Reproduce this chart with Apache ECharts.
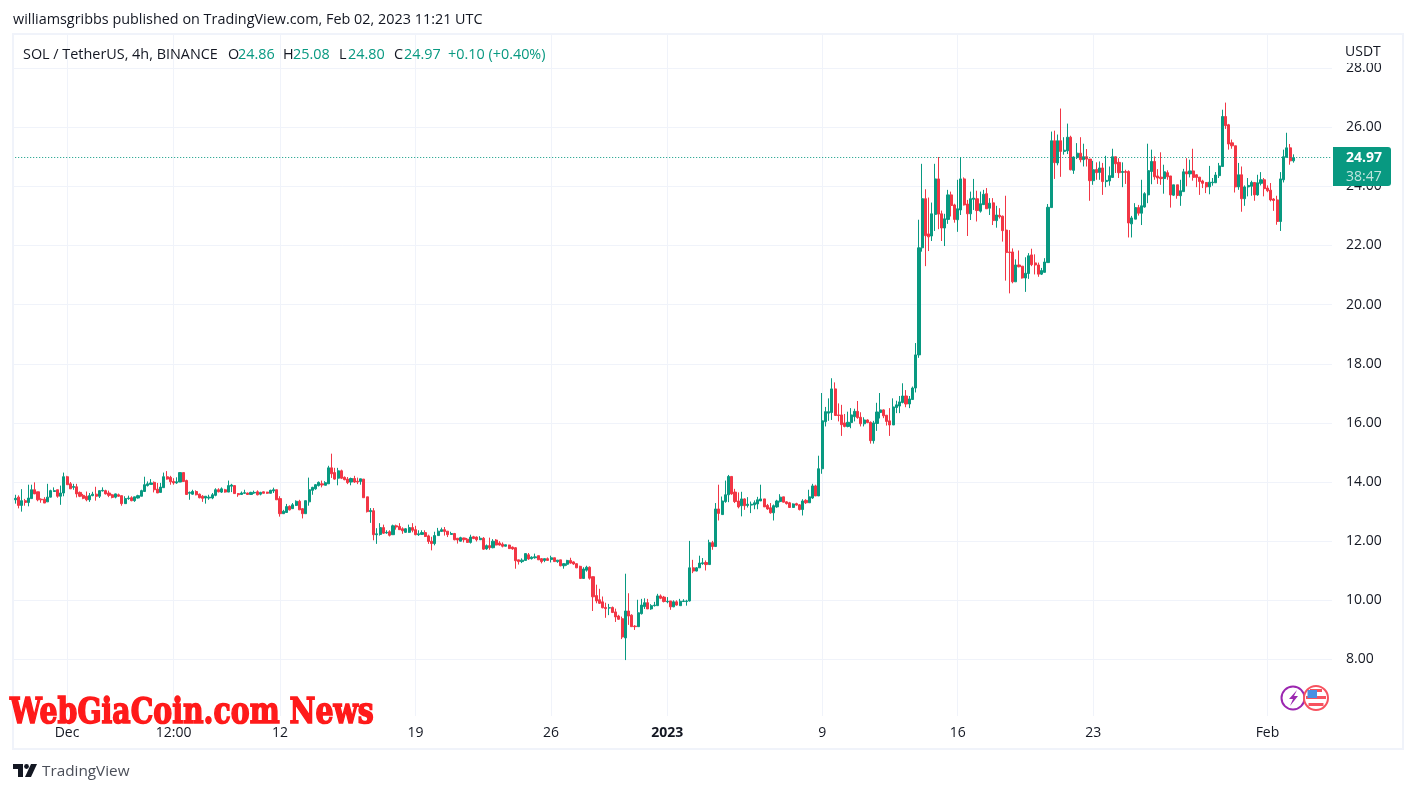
<!DOCTYPE html>
<html>
<head>
<meta charset="utf-8">
<title>SOL / TetherUS</title>
<script src="https://cdn.jsdelivr.net/npm/echarts@6/dist/echarts.min.js"></script>
<style>
  html, body { margin: 0; padding: 0; background: #fff; }
  #chart { width: 1416px; height: 793px; }
</style>
</head>
<body>
<div id="chart"></div>
<script>
// 4h candles
const opens = [
  13.2,13.40,13.49,13.21,13.37,13.31,13.44,13.74,13.67,13.42,
  13.42,13.33,13.49,13.68,13.74,13.52,13.63,14.18,13.94,13.82,
  13.84,13.65,13.55,13.52,13.4,13.54,13.59,13.52,13.7,13.71,
  13.63,13.57,13.49,13.57,13.54,13.27,13.44,13.47,13.37,13.46,
  13.52,13.68,13.88,13.92,13.99,13.76,13.65,13.81,14.18,14.16,
  14.02,13.97,14.0,14.32,14.05,13.62,13.59,13.68,13.59,13.52,
  13.46,13.46,13.46,13.55,13.74,13.66,13.74,13.66,13.86,13.88,
  13.61,13.58,13.62,13.63,13.58,13.63,13.67,13.59,13.67,13.66,
  13.62,13.7,13.74,13.44,12.93,12.97,13.18,13.1,13.21,13.35,
  13.1,12.93,13.33,13.72,13.77,13.88,13.94,13.89,13.94,14.48,
  14.32,14.13,14.38,14.16,14.1,14,14.12,14.03,14.02,14.1,
  13.5,13.0,13.03,12.22,12.23,12.46,12.28,12.32,12.22,12.52,
  12.5,12.42,12.3,12.3,12.46,12.39,12.22,12.23,12.29,12.18,
  12.0,11.92,12.19,12.33,12.39,12.34,12.23,12.26,12.1,12.0,
  12.11,12.07,11.96,12.15,12.14,12.05,12.1,11.74,11.85,11.78,
  12.04,11.94,11.9,11.83,11.87,11.8,11.78,11.37,11.31,11.35,
  11.54,11.41,11.44,11.51,11.41,11.35,11.41,11.38,11.44,11.31,
  11.37,11.17,11.22,11.35,11.3,11.24,11.15,10.74,11.02,11.12,
  10.8,10.16,10.02,9.95,9.76,9.74,9.76,9.61,9.47,9.38,
  8.73,9.64,9.5,9.13,9.11,9.55,9.79,9.92,9.71,9.82,
  9.82,10.15,10.11,9.95,9.98,9.78,9.95,9.82,9.96,9.96,
  9.98,11.1,10.99,11.1,11.24,11.28,11.21,11.95,11.82,13.09,
  12.9,13.34,13.57,14.19,13.66,13.36,13.2,13.43,13.21,13.22,
  13.23,13.26,13.36,13.43,13.21,13.13,12.96,13.16,13.34,13.5,
  13.33,13.3,13.14,13.27,13.23,13.07,13.38,13.3,13.46,13.87,
  13.53,14.45,16.04,16.33,16.35,17.15,16.27,16.27,16.0,15.88,
  16.01,16.21,16.39,16.19,15.97,16.1,16.02,15.4,15.98,16.35,
  16.44,16.26,16.07,15.93,16.52,16.57,16.69,16.91,16.64,16.79,
  17.18,18.3,21.92,23.58,22.39,22.32,23.05,24.25,23.07,22.59,
  22.88,23.71,23.37,22.87,23.2,24.25,23.4,23.07,23.56,23.58,
  23.16,23.38,23.75,23.26,23.44,22.84,23.02,22.99,22.52,21.78,
  21.78,20.77,21.34,21.3,20.9,21.05,21.68,21.41,21.34,21.03,
  21.09,21.42,23.28,25.54,24.79,25.54,25.18,25.2,25.66,24.54,
  24.97,25.12,24.9,25.0,24.92,24.19,24.57,24.47,24.62,24.16,
  24.18,24.3,25.0,24.81,24.47,24.5,24.5,22.73,22.89,23.28,
  23.09,23.3,23.71,24.5,24.84,24.35,24.31,24.26,24.46,24.35,
  23.7,24.05,23.68,23.82,24.49,24.42,24.52,24.39,24.31,24.18,
  24.13,23.98,24.12,24.12,24.36,24.67,26.36,26.08,25.47,25.37,
  23.98,24.39,23.58,23.98,24.0,24.13,23.71,24.1,24.22,23.94,
  23.87,23.57,23.54,22.81,24.22,24.98,25.3,24.86
];
const closes = [
  13.42,13.45,13.21,13.37,13.31,13.46,13.74,13.6,13.4,13.4,
  13.29,13.49,13.71,13.71,13.52,13.63,14.18,13.91,13.77,13.85,
  13.6,13.52,13.45,13.4,13.54,13.59,13.52,13.71,13.72,13.6,
  13.55,13.48,13.6,13.52,13.27,13.44,13.46,13.37,13.5,13.54,
  13.71,13.91,13.94,13.97,13.74,13.63,13.83,14.18,14.1,14.01,
  13.97,14.01,14.32,14.02,13.58,13.65,13.68,13.57,13.47,13.45,
  13.52,13.49,13.57,13.74,13.67,13.77,13.66,13.88,13.9,13.61,
  13.57,13.63,13.64,13.58,13.65,13.65,13.57,13.65,13.62,13.62,
  13.72,13.74,13.4,12.93,13.01,13.17,13.06,13.23,13.35,13.06,
  12.93,13.37,13.74,13.82,13.91,13.99,13.9,13.98,14.48,14.28,
  14.1,14.38,14.13,14.08,13.98,14.12,14.0,14.0,14.11,13.47,
  13.0,13.04,12.22,12.25,12.46,12.27,12.3,12.2,12.52,12.48,
  12.39,12.35,12.42,12.46,12.37,12.22,12.25,12.29,12.16,11.99,
  11.92,12.19,12.34,12.39,12.33,12.22,12.26,12.05,12.04,12.12,
  12.05,11.96,12.14,12.09,12.05,12.1,11.73,11.85,11.78,12.0,
  11.87,11.87,11.83,11.88,11.75,11.74,11.34,11.31,11.36,11.58,
  11.4,11.46,11.47,11.37,11.31,11.41,11.35,11.44,11.31,11.36,
  11.17,11.24,11.35,11.26,11.23,11.1,10.74,11.06,11.12,10.75,
  10.12,9.98,9.9,9.75,9.72,9.75,9.59,9.44,9.36,8.76,
  9.64,9.47,9.11,9.11,9.58,9.84,9.92,9.71,9.82,9.84,
  10.15,10.07,9.96,9.97,9.78,9.95,9.84,9.97,9.98,9.98,
  11.1,10.99,11.1,11.26,11.27,11.21,11.95,11.82,13.09,12.94,
  13.36,13.57,14.19,13.6,13.34,13.16,13.43,13.2,13.25,13.25,
  13.3,13.4,13.43,13.16,13.09,12.96,13.2,13.36,13.49,13.32,
  13.27,13.14,13.26,13.22,13.07,13.36,13.3,13.5,13.87,13.53,
  14.45,16.07,16.38,16.38,17.15,16.25,16.25,15.94,15.88,16.02,
  16.27,16.39,16.18,15.97,16.1,16.01,15.4,16.0,16.37,16.44,
  16.24,16.05,15.93,16.54,16.61,16.71,16.91,16.64,16.81,17.18,
  18.3,21.92,23.58,22.33,22.29,23.07,24.25,23.06,22.59,22.9,
  23.71,23.35,22.88,23.24,24.25,23.37,23.07,23.58,23.6,23.18,
  23.41,23.73,23.24,23.43,22.84,23.03,22.97,22.5,21.76,21.76,
  20.77,21.34,21.28,20.9,21.06,21.65,21.35,21.34,21.03,21.15,
  21.44,23.29,25.54,24.8,25.54,25.18,25.22,25.66,24.56,24.99,
  25.12,24.9,25.0,24.92,24.19,24.56,24.46,24.62,24.16,24.2,
  24.36,25.0,24.76,24.46,24.5,24.47,22.76,22.93,23.28,23.09,
  23.34,23.75,24.53,24.84,24.32,24.28,24.26,24.49,24.32,23.71,
  24.05,23.69,23.85,24.49,24.42,24.52,24.3,24.3,24.16,24.1,
  23.98,24.14,24.14,24.38,24.69,26.36,26.05,25.43,25.37,23.98,
  24.39,23.58,23.98,24.03,24.13,23.71,24.12,24.22,23.92,23.85,
  23.54,23.52,22.81,24.25,25.0,25.3,24.86,24.97
];
const lows = [
  13.06,13.27,13.11,13.0,13.2,13.18,13.44,13.6,13.35,13.3,
  13.29,13.33,13.48,13.67,13.47,13.23,13.52,13.91,13.77,13.74,
  13.48,13.49,13.42,13.35,13.33,13.52,13.37,13.46,13.68,13.58,
  13.49,13.45,13.45,13.5,13.2,13.27,13.4,13.35,13.33,13.44,
  13.52,13.68,13.85,13.92,13.65,13.63,13.65,13.81,14.08,13.91,
  13.91,13.94,14.0,14.0,13.57,13.4,13.57,13.55,13.45,13.33,
  13.27,13.4,13.42,13.52,13.65,13.63,13.64,13.66,13.66,13.6,
  13.5,13.57,13.6,13.57,13.57,13.6,13.55,13.55,13.62,13.6,
  13.62,13.63,13.4,12.83,12.93,12.97,13.04,13.09,13.19,13.06,
  12.77,12.93,13.2,13.57,13.74,13.85,13.82,13.89,13.94,14.14,
  14.08,13.89,14.1,14.06,13.93,13.89,13.97,13.93,13.91,13.47,
  12.97,12.62,12.03,11.91,12.19,12.25,12.25,12.16,12.22,12.39,
  12.39,12.25,12.28,12.28,12.3,12.2,12.18,12.22,12.14,11.91,
  11.69,11.86,12.19,12.33,12.19,12.14,12.22,12.03,11.92,11.99,
  11.96,11.95,11.92,12.07,11.99,12.04,11.71,11.71,11.71,11.76,
  11.86,11.85,11.79,11.82,11.74,11.71,11.07,11.21,11.26,11.34,
  11.37,11.38,11.41,11.37,11.25,11.29,11.34,11.28,11.3,11.27,
  11.15,11.07,11.17,11.24,11.2,11.09,10.74,10.74,10.97,10.7,
  9.64,9.9,9.88,9.73,9.41,9.5,9.57,9.27,9.34,8.69,
  7.98,9.17,9.11,9.0,9.11,9.52,9.71,9.71,9.68,9.79,
  9.82,10.04,9.93,9.9,9.68,9.77,9.82,9.82,9.95,9.82,
  9.96,10.92,10.98,11.1,11.2,11.01,11.21,11.71,11.82,12.7,
  12.9,13.3,13.32,13.57,13.29,13.11,12.84,13.06,13.14,12.95,
  13.08,13.08,13.36,13.16,13.06,12.93,12.7,13.13,13.31,13.31,
  13.24,13.13,13.13,13.2,13.04,12.87,13.26,13.3,13.43,13.53,
  13.53,14.28,15.88,16.07,16.1,16.25,16.05,15.56,15.85,15.85,
  15.82,16.05,16.14,15.88,15.88,15.99,15.3,15.3,15.73,16.15,
  16.16,15.91,15.56,15.93,16.33,16.33,16.66,16.53,16.5,16.78,
  17.03,18.2,21.79,21.3,21.81,22.15,22.49,22.55,22.15,21.98,
  22.73,22.98,22.77,22.46,23.03,23.35,22.32,22.86,23.2,22.81,
  23.11,23.37,23.24,23.03,22.69,22.6,22.91,22.13,20.81,20.38,
  20.72,20.77,21.26,20.88,20.43,20.87,21.3,21.02,20.94,21.0,
  21.09,21.42,23.28,24.25,24.71,24.32,25.07,25.09,24.54,24.42,
  24.92,24.81,24.67,24.67,23.51,24.05,24.22,24.22,23.71,23.97,
  24.02,24.28,24.45,24.28,23.97,24.08,22.27,22.27,22.89,23.01,
  22.69,23.28,23.43,24.07,24.22,24.08,24.05,23.75,24.22,23.28,
  23.67,23.58,23.34,23.82,24.0,24.3,24.19,23.97,23.71,23.94,
  23.77,23.73,24.02,24.11,24.28,24.67,25.94,25.24,25.27,23.79,
  23.88,23.14,23.34,23.66,23.68,23.51,23.68,24.03,23.66,23.8,
  23.49,23.17,22.7,22.49,24.13,24.98,24.73,24.8
];
const highs = [
  13.43,13.57,13.55,13.76,13.43,13.91,13.91,13.99,13.67,13.45,
  13.49,13.94,13.74,13.82,13.74,13.88,14.32,14.21,14.0,13.94,
  13.94,13.68,13.6,13.68,13.63,13.67,13.84,13.71,13.82,13.74,
  13.71,13.6,13.61,13.61,13.54,13.52,13.54,13.52,13.5,13.57,
  13.74,14.18,14.02,14.1,14.02,13.97,13.97,14.32,14.37,14.21,
  14.13,14.16,14.32,14.32,14.08,13.68,13.74,13.72,13.61,13.56,
  13.52,13.57,13.63,13.79,13.79,13.82,13.77,14.05,13.94,13.88,
  13.63,13.68,13.74,13.64,13.67,13.71,13.72,13.67,13.68,13.67,
  13.74,13.81,13.74,13.52,13.06,13.26,13.21,13.29,13.38,13.4,
  13.12,13.37,14.15,13.84,13.93,14.02,14.05,14.03,14.55,14.96,
  14.48,14.48,14.42,14.19,14.17,14.15,14.21,14.15,14.11,14.1,
  13.5,13.12,13.12,12.44,12.61,12.56,12.37,12.37,12.56,12.56,
  12.61,12.47,12.44,12.56,12.61,12.52,12.37,12.37,12.37,12.22,
  12.15,12.32,12.45,12.46,12.48,12.34,12.32,12.28,12.11,12.15,
  12.12,12.11,12.22,12.18,12.16,12.17,12.14,11.89,12.12,12.07,
  12.07,12.0,11.96,11.88,11.88,11.82,11.8,11.37,11.42,11.58,
  11.6,11.49,11.58,11.51,11.43,11.41,11.45,11.51,11.44,11.36,
  11.37,11.26,11.37,11.44,11.32,11.25,11.17,11.12,11.17,11.15,
  10.8,10.53,10.39,10.13,9.92,9.88,9.79,9.72,9.51,9.45,
  10.9,10.24,9.53,9.16,10.02,10.05,10.07,10.05,9.87,9.95,
  10.22,10.2,10.15,10.11,9.98,10.0,10,10.05,10.04,10.02,
  12.01,11.37,11.12,11.51,11.43,11.35,12.05,12.01,13.29,13.91,
  13.51,14.05,14.24,14.19,13.77,13.65,13.67,13.45,13.49,13.34,
  13.38,13.5,13.91,13.43,13.26,13.29,13.24,13.4,13.59,13.5,
  13.35,13.33,13.28,13.3,13.25,13.42,13.42,13.74,13.94,13.91,
  14.89,17.01,16.54,16.83,17.51,17.37,16.66,16.61,16.3,16.38,
  16.5,16.48,16.74,16.36,16.19,16.12,16.05,16.07,16.68,17.01,
  16.46,16.26,16.5,16.83,16.75,16.91,17.34,17.11,16.91,17.23,
  18.7,22.87,24.76,23.9,23.62,23.45,24.76,24.99,23.18,23.07,
  23.88,23.82,23.41,24.22,24.99,24.3,23.54,23.82,24.25,23.85,
  23.82,23.88,23.94,23.6,23.6,23.34,23.26,23.01,23.68,22.52,
  21.9,21.53,21.83,21.3,21.6,21.74,21.89,21.7,21.42,21.24,
  21.57,23.4,25.85,25.88,25.75,26.63,25.66,26.12,25.71,25.01,
  25.46,25.66,25.44,25.26,24.92,24.86,24.81,24.84,24.79,25.03,
  24.67,25.27,25.0,24.95,24.81,24.56,24.54,23.0,23.43,23.37,
  24.22,23.8,25.44,25.24,25.01,24.58,25.15,24.73,24.54,24.35,
  24.05,24.05,24.22,24.59,24.95,24.9,25.27,24.41,24.31,24.22,
  24.14,24.69,24.28,24.48,24.79,26.59,26.83,26.11,25.58,25.37,
  24.79,24.67,24.03,24.28,24.19,24.14,24.39,24.48,24.28,24.03,
  24.11,23.6,23.68,24.48,25.24,25.81,25.43,25.08
];

const lastPrice = 24.97;

// time axis labels, keyed by candle time
const timeLabels = {
  "2022-12-01 00:00": "Dec",
  "2022-12-06 12:00": "12:00",
  "2022-12-12 00:00": "12",
  "2022-12-19 00:00": "19",
  "2022-12-26 00:00": "26",
  "2023-01-01 00:00": "2023",
  "2023-01-09 00:00": "9",
  "2023-01-16 00:00": "16",
  "2023-01-23 00:00": "23",
  "2023-02-01 00:00": "Feb"
};

const UP = "#089981";
const DOWN = "#f23645";
const GRID = "#f0f3fa";
const TEXT = "#131722";
const FONT = "'Open Sans', sans-serif";

// 410 slots of 4h from Nov 28 04:00, the last ones are empty room on the right
const categories = [];
for (let i = 0; i < 410; i++) {
  const d = new Date(Date.UTC(2022, 10, 28, 4 + i * 4));
  categories.push(d.toISOString().slice(0, 16).replace("T", " "));
}
const candles = opens.map((o, i) => [o, closes[i], lows[i], highs[i]]);
const isTick = (idx, name) => name in timeLabels;

const txt = (x, y, text, style) => ({
  type: "text", x, y, z: 60,
  style: Object.assign({ text, fontFamily: FONT, fontSize: 14, fill: TEXT, textVerticalAlign: "middle" }, style)
});
const box = (x, y, width, height, style, z) => ({
  type: "rect", z: z || 50, shape: { x, y, width, height }, style: Object.assign({ fill: "#fff" }, style)
});

const big = { fontSize: 14.4 };
const legendGreen = { fill: UP, fontSize: 14.4 };
const chart = echarts.init(document.getElementById("chart"));
chart.setOption({
  animation: false,
  backgroundColor: "#fff",
  grid: { left: 12.2, top: 8.85, width: 1319.8, height: 709.8 },
  xAxis: {
    type: "category",
    data: categories,
    boundaryGap: false,
    axisLine: { show: false },
    axisTick: { show: false },
    splitLine: { show: true, interval: isTick, lineStyle: { color: GRID, width: 1 } },
    axisLabel: {
      interval: isTick,
      margin: 7,
      fontFamily: FONT,
      fontSize: 14,
      color: TEXT,
      formatter: (v) => timeLabels[v] === "2023" ? "{b|2023}" : (timeLabels[v] || ""),
      rich: { b: { fontFamily: FONT, fontSize: 14, fontWeight: "bold", color: TEXT } }
    }
  },
  yAxis: {
    type: "value",
    position: "right",
    min: 6,
    max: 30,
    interval: 2,
    axisLine: { show: false },
    axisTick: { show: false },
    splitLine: { show: true, showMinLine: false, showMaxLine: false, lineStyle: { color: GRID, width: 1 } },
    axisLabel: {
      margin: 14,
      padding: [8, 0, 0, 0],
      showMinLabel: false,
      showMaxLabel: false,
      fontFamily: FONT,
      fontSize: 14,
      color: TEXT,
      formatter: (v) => v.toFixed(2)
    }
  },
  series: [{
    type: "candlestick",
    data: candles,
    barWidth: 2.6,
    itemStyle: { color: UP, color0: DOWN, borderColor: UP, borderColor0: DOWN, borderWidth: 1 },
    markLine: {
      silent: true,
      symbol: ["none", "none"],
      label: { show: false },
      lineStyle: { type: [1, 2], color: UP, width: 1 },
      data: [{ yAxis: lastPrice }]
    }
  }],
  graphic: { elements: [
    box(0, 0, 1416, 33),
    box(0, 0, 12, 793),
    box(1334, 35, 68, 28),
    box(14, 716, 1319, 4),
    { type: "rect", z: 55, shape: { x: 13, y: 34, width: 1390, height: 715 }, style: { fill: "transparent", stroke: GRID, lineWidth: 2 } },

    txt(13, 20, "williamsgribbs published on TradingView.com, Feb 02, 2023 11:21 UTC", big),
    txt(23, 55, "SOL / TetherUS, 4h, BINANCE", big),
    txt(228, 55, "O", big), txt(238, 55, "24.86", legendGreen),
    txt(283, 55, "H", big), txt(293, 55, "25.08", legendGreen),
    txt(339, 55, "L", big), txt(348, 55, "24.80", legendGreen),
    txt(394, 55, "C", big), txt(404, 55, "24.97", legendGreen),
    txt(448, 55, "+0.10 (+0.40%)", legendGreen),
    txt(1345, 52, "USDT", {}),

    // last price tag
    { type: "rect", z: 60, shape: { x: 1333, y: 147, width: 58, height: 39, r: [0, 3, 3, 0] }, style: { fill: UP } },
    txt(1346, 158.5, "24.97", { fill: "#fff", fontWeight: "bold" }),
    txt(1346, 177, "38:47", { fill: "rgba(255,255,255,0.75)" }),

    // watermark
    { type: "text", z: 70, x: 10, y: 714, scaleX: 0.81,
      style: { text: "WebGiaCoin.com News", fontFamily: "DejaVu Serif", fontWeight: "bold", fontSize: 35,
        fill: "#ff1a1a", stroke: "#ff1a1a", lineWidth: 1.6, textVerticalAlign: "middle" } },

    // TradingView logo
    { type: "polygon", z: 60, shape: { points: [[13, 764], [23, 764], [23, 777], [18, 777], [18, 769], [13, 769]] }, style: { fill: TEXT } },
    { type: "circle", z: 60, shape: { cx: 26.5, cy: 766.5, r: 2.4 }, style: { fill: TEXT } },
    { type: "polygon", z: 60, shape: { points: [[31, 764], [37, 764], [31, 777], [25, 777]] }, style: { fill: TEXT } },
    txt(42, 772, "TradingView", { fontSize: 15.3, fill: "#4a4e58" }),

    // news and flag icons
    { type: "circle", z: 60, shape: { cx: 1293, cy: 698, r: 11.5 }, style: { fill: "#fff", stroke: "#9c27b0", lineWidth: 2 } },
    { type: "polygon", z: 61, shape: { points: [[1297, 690], [1289, 699], [1293, 699], [1290, 706], [1298, 696], [1294, 696]] }, style: { fill: "#9c27b0" } },
    { type: "circle", z: 62, shape: { cx: 1316, cy: 698, r: 12 }, style: { fill: "#fff", stroke: "#f7525f", lineWidth: 2 } },
    { type: "rect", z: 63, shape: { x: 1310, y: 689, width: 12, height: 3 }, style: { fill: "#f7525f" } },
    { type: "rect", z: 63, shape: { x: 1306, y: 696, width: 20, height: 3 }, style: { fill: "#f7525f" } },
    { type: "rect", z: 63, shape: { x: 1308.5, y: 703, width: 15, height: 3 }, style: { fill: "#f7525f" } },
    { type: "rect", z: 64, shape: { x: 1307.5, y: 690, width: 9.5, height: 8 }, style: { fill: "#4a90e2" } }
  ] }
});
</script>
</body>
</html>
